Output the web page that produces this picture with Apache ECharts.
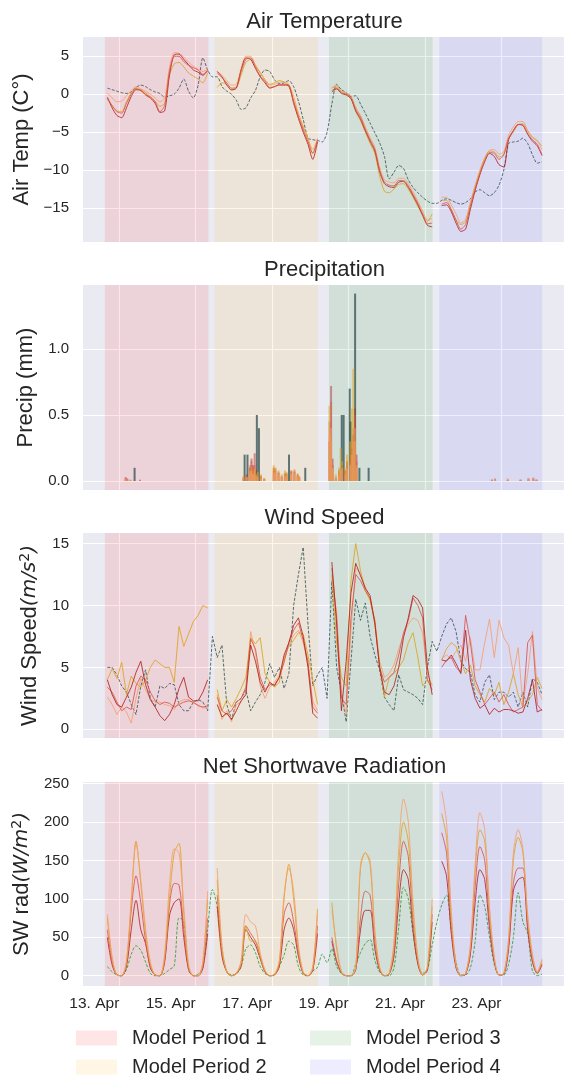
<!DOCTYPE html>
<html>
<head>
<meta charset="utf-8">
<script src="https://cdn.jsdelivr.net/npm/echarts@6.0.0/dist/echarts.min.js"></script>
<style>
  html, body { margin: 0; padding: 0; background: #ffffff; }
  #chart { width: 564px; height: 1079px; }
</style>
</head>
<body>
<div id="chart"></div>
<script>
// hours after 13 Apr 00:00, 3 hourly
var hours = [-7.5, -4.5, -1.5, 1.5, 4.5, 7.5, 10.5, 13.5, 16.5, 19.5, 22.5, 25.5, 28.5, 31.5, 34.5, 37.5, 40.5, 43.5, 46.5, 49.5, 52.5, 55.5,
  58.5,
  61.5, 64.5, 67.5, 70.5, 73.5, 76.5, 79.5, 82.5, 85.5, 88.5, 91.5, 94.5, 97.5, 100.5, 103.5, 106.5, 109.5, 112.5, 115.5, 118.5, 121.5, 124.5,
  127.5, 130.5,
  133.5, 136.5, 139.5, 142.5, 145.5, 148.5, 151.5, 154.5, 157.5, 160.5, 163.5, 166.5, 169.5, 172.5, 175.5, 178.5, 181.5, 184.5, 187.5, 190.5, 193.5, 196.5,
  199.5,
  202.5, 205.5, 208.5, 211.5, 214.5, 217.5, 220.5, 223.5, 226.5, 229.5, 232.5, 235.5, 238.5, 241.5, 244.5, 247.5, 250.5, 253.5, 256.5, 259.5, 262.5, 265.5];

var tickHours = [0, 48, 96, 144, 192, 240];
var tickLabels = ['13. Apr', '15. Apr', '17. Apr', '19. Apr', '21. Apr', '23. Apr'];

var periodNames = ['Model Period 1', 'Model Period 2', 'Model Period 3', 'Model Period 4'];
var periodStart = [-9.1, 59.8, 131.7, 201.0];
var periodEnd = [56.0, 124.8, 196.8, 265.6];

// ---- air temperature (C) ----
var tempObs = [0.8, 0.6, 0.4, 0.2, 0.1, 0.3, 0.9, 1.2, 1.0, 0.6, 0.3, 0.1, -0.4, -0.2, 0.0, 0.8, 2.0, 0.4, -0.5, 1.2, 4.8, 3.2,
  2.3,
  2.3, 1.0, 0.4, 0.0, -0.8, -2.0, -1.8, -0.5, 0.5, 2.3, 3.2, 3.0, 1.9, 1.4, 1.5, 1.8, 1.0, -0.9, -3.3, -5.8, -6.0, -6.1,
  -6.3, -5.0,
  -1.3, 1.3, 0.6, 0.2, -0.3, -0.2, -1.3, -2.5, -3.8, -5.1, -6.4, -8.2, -11.2, -10.3, -9.4, -9.8, -11.3, -12.3, -13.0, -13.6, -14.1, -14.4,
  -14.4,
  -14.0, -13.8, -14.0, -14.3, -14.5, -14.3, -13.8, -12.9, -12.6, -13.0, -13.4, -13.0, -12.0, -10.0, -6.5, -6.3, -6.2, -5.8, -6.5, -8.0, -9.1, -8.9];
var tempA = [-0.4, -1.8, -2.8, -3.1, -1.8, -0.3, 0.6, 0.5, -0.1, -0.5, -1.2, -2.4, -2.2, 2.5, 5.2, 5.3, 4.6, 3.9, 3.2, 2.9, 2.5, 3.1,
  null,
  3.0, 2.3, 1.2, 0.6, 0.8, 3.2, 4.8, 4.6, 3.4, 2.3, 1.5, 0.8, 1.0, 1.2, 1.2, 1.1, -1.2, -3.2, -5.0, -6.6, -8.6, -6.3,
  null, null,
  0.3, 0.7, 0.1, -0.1, -0.6, -2.2, -3.3, -4.8, -6.2, -7.5, -10.2, -11.8, -12.2, -12.3, -11.6, -11.5, -12.3, -13.4, -14.6, -16.0, -17.3, -17.5,
  null,
  -14.7, -14.6, -15.5, -17.0, -18.1, -17.8, -15.2, -12.7, -10.6, -8.9, -7.8, -8.2, -9.3, -9.6, -6.0, -4.8, -4.0, -4.1, -5.3, -6.2, -6.8, -8.1];
var tempB = [-0.6, -1.5, -2.3, -2.5, -1.2, 0.0, 0.7, 0.5, 0.0, -0.4, -1.0, -2.3, -1.5, 3.0, 5.0, 5.0, 4.3, 3.8, 3.5, 3.2, 2.6, 3.2,
  null,
  2.8, 2.2, 1.5, 0.8, 0.9, 3.0, 4.6, 4.8, 3.6, 2.4, 1.7, 0.9, 1.0, 1.3, 1.3, 1.2, -1.0, -3.0, -4.7, -6.3, -7.8, -6.0,
  null, null,
  0.5, 0.8, 0.2, 0.0, -0.4, -2.0, -3.0, -4.6, -6.0, -7.3, -10.0, -11.6, -12.0, -12.1, -11.4, -11.4, -12.1, -13.2, -14.4, -15.8, -17.1, -17.0,
  null,
  -14.5, -14.3, -15.2, -16.6, -17.8, -17.2, -14.8, -12.5, -10.5, -8.8, -7.7, -7.8, -8.6, -8.0, -5.8, -4.8, -4.0, -4.1, -5.2, -6.0, -6.6, -8.0];
var tempC = [-0.5, -1.5, -2.2, -2.3, -1.0, 0.2, 0.8, 0.6, 0.2, -0.3, -0.9, -1.6, -1.2, 2.5, 4.0, 4.2, 3.6, 2.8, 2.4, 2.0, 1.5, 2.8,
  null,
  0.9, 1.5, 1.3, 0.5, 0.8, 2.5, 4.2, 4.6, 3.7, 2.9, 1.9, 1.3, 1.5, 1.8, 1.6, 1.0, -0.8, -2.8, -4.4, -6.0, -7.8, -6.2,
  null, null,
  0.8, 1.2, 0.3, 0.0, -0.5, -2.3, -3.5, -5.0, -6.5, -7.8, -10.8, -12.8, -13.0, -12.5, -11.9, -11.8, -12.5, -13.6, -14.8, -15.8, -16.8, -15.8,
  null,
  -14.0, -14.0, -15.3, -16.6, -17.2, -16.8, -14.6, -12.3, -10.2, -8.5, -7.5, -7.6, -8.3, -7.9, -5.9, -5.0, -4.0, -3.9, -4.9, -5.7, -6.2, -6.8];
var tempD = [0.2, -0.5, -1.0, -0.9, -0.2, 0.5, 1.0, 0.7, 0.4, 0.0, -0.5, -1.0, -0.5, 3.5, 5.5, 5.4, 4.9, 4.2, 3.7, 3.3, 3.0, 3.3,
  null,
  3.0, 2.5, 1.8, 1.2, 1.3, 3.4, 5.0, 5.0, 3.9, 2.8, 1.9, 1.2, 1.3, 1.6, 1.6, 1.3, -0.3, -2.5, -4.2, -5.8, -7.3, -5.8,
  null, null,
  0.9, 1.0, 0.4, 0.2, -0.2, -1.7, -2.8, -4.3, -5.7, -7.0, -9.6, -11.3, -11.6, -11.7, -11.1, -11.1, -11.8, -12.9, -14.1, -15.4, -16.6, -16.4,
  null,
  -13.6, -13.6, -14.6, -15.8, -17.0, -16.5, -14.2, -12.0, -10.0, -8.4, -7.4, -7.3, -7.9, -7.6, -5.4, -4.3, -3.6, -3.6, -4.8, -5.6, -6.1, -7.3];

// ---- precipitation (mm) ----
var precipObsHours = [9.6, 78.7, 80.5, 86.4, 87.7, 106.6, 116.8, 139.7, 140.9, 144.7, 145.3, 148.1, 150.8, 156.6];
var precipObs = [0.1, 0.2, 0.2, 0.5, 0.4, 0.2, 0.1, 0.5, 0.5, 0.7, 0.45, 1.42, 0.1, 0.1];
var precipHours = [4, 5, 7, 13, 78, 80, 82, 83, 84, 85, 86, 87, 89, 91, 97, 98, 100, 102, 104, 105, 108, 110, 112, 113,
  132, 133, 134, 136, 138, 139, 140, 142, 143, 145, 146, 147, 148, 149, 234, 236, 244, 252, 257, 260, 262];
var precipA = [0.03, 0.02, 0.0, 0.01, 0.02, 0.05, 0.10, 0.17, 0.12, 0.21, 0.08, 0.03, 0.04, 0.02,
  0.10, 0.08, 0.06, 0.03, 0.05, 0.06, 0.08, 0.07, 0.05, 0.03,
  0.30, 0.72, 0.17, 0.02, 0.08, 0.05, 0.12, 0.08, 0.15, 0.20, 0.25, 0.35, 0.55, 0.20,
  0.01, 0.01, 0.01, 0.01, 0.02, 0.02, 0.01];
var precipB = [0.02, 0.01, 0.01, 0.0, 0.03, 0.04, 0.12, 0.15, 0.10, 0.12, 0.06, 0.04, 0.03, 0.01,
  0.08, 0.10, 0.07, 0.04, 0.06, 0.05, 0.07, 0.08, 0.04, 0.02,
  0.45, 0.60, 0.12, 0.03, 0.06, 0.10, 0.08, 0.06, 0.12, 0.15, 0.30, 0.40, 0.50, 0.15,
  0.01, 0.02, 0.01, 0.01, 0.01, 0.02, 0.01];
var precipC = [0.01, 0.0, 0.01, 0.0, 0.04, 0.03, 0.08, 0.10, 0.06, 0.10, 0.05, 0.07, 0.05, 0.02,
  0.12, 0.10, 0.08, 0.05, 0.08, 0.07, 0.06, 0.09, 0.06, 0.04,
  0.57, 0.30, 0.10, 0.05, 0.10, 0.25, 0.15, 0.10, 0.20, 0.30, 0.55, 0.85, 0.30, 0.10,
  0.0, 0.01, 0.01, 0.0, 0.01, 0.01, 0.0];
var precipD = [0.02, 0.01, 0.0, 0.0, 0.02, 0.03, 0.06, 0.08, 0.05, 0.08, 0.04, 0.03, 0.02, 0.01,
  0.06, 0.07, 0.05, 0.03, 0.04, 0.04, 0.05, 0.06, 0.03, 0.02,
  0.35, 0.40, 0.10, 0.03, 0.05, 0.08, 0.10, 0.05, 0.10, 0.12, 0.20, 0.30, 0.40, 0.12,
  0.01, 0.01, 0.02, 0.01, 0.02, 0.03, 0.01];

// ---- wind speed ----
var windObs = [5.0, 5.0, 4.4, 3.5, 3.0, 2.0, 1.2, 3.5, 4.8, 2.5, 1.8, 3.5, 3.3, 3.7, 3.6, 2.0, 1.5, 1.5, 2.2, 2.4, 2.2, 1.5,
  7.5,
  5.8, 6.8, 2.0, 0.8, 2.2, 2.5, 3.2, 1.5, 2.2, 2.8, 3.8, 5.3, 4.2, 5.0, 3.3, 4.5, 10.0, 12.5, 14.7, 8.5, 3.5, 4.4,
  5.0, 2.5,
  12.0, 5.0, 3.0, 0.6, 5.5, 10.5, 8.8, 10.2, 7.5, 6.0, 4.8, 2.6, 2.0, 1.5, 4.4, 3.2, 3.0, 2.8, 2.5, 2.0, 5.0, 7.1,
  6.3,
  7.5, 8.5, 9.0, 7.9, 5.5, 4.9, 4.6, 2.8, 2.2, 3.8, 4.4, 2.4, 3.0, 3.0, 2.6, 3.0, 1.8, 3.0, 1.8, 4.1, 3.8, 2.8];
var windA = [4.0, 2.8, 2.0, 1.8, 2.6, 3.4, 4.6, 5.5, 3.6, 2.4, 1.8, 1.1, 0.7, 1.2, 2.0, 3.3, 4.2, 2.6, 2.3, 2.3, 3.0, 4.0,
  null,
  2.0, 1.0, 1.3, 0.8, 1.5, 2.3, 2.8, 6.8, 5.5, 3.8, 3.0, 3.8, 3.5, 4.2, 6.0, 7.0, 8.4, 9.0, 7.5, 5.0, 1.3, 0.9,
  null, null,
  13.5, 8.5, 1.5, 5.5, 11.0, 13.4, 12.4, 11.4, 10.8, 8.6, 5.0, 3.0, 2.8, 3.5, 5.0, 7.4, 9.0, 10.8, 10.5, 9.8, 5.0, 2.8,
  null,
  5.6, 5.5, 6.0, 5.3, 4.5, 8.0, 4.0, 2.5, 1.7, 2.0, 1.2, 1.7, 1.4, 1.6, 1.6, 1.5, 1.3, 1.4, 2.5, 4.0, 1.4, 1.6];
var windB = [3.4, 3.0, 2.2, 1.5, 1.8, 1.6, 3.5, 4.3, 4.0, 3.0, 2.3, 2.0, 2.2, 2.1, 1.8, 2.0, 2.2, 2.3, 2.2, 1.9, 1.8, 1.9,
  null,
  2.6, 1.5, 1.2, 1.5, 2.2, 2.5, 3.4, 7.3, 6.5, 4.2, 3.2, 3.6, 3.6, 4.2, 5.4, 7.0, 8.0, 8.6, 7.2, 5.5, 1.8, 1.3,
  null, null,
  13.0, 9.0, 2.5, 2.0, 9.0, 12.5, 12.0, 11.2, 10.6, 8.5, 5.0, 3.8, 4.2, 4.6, 6.0, 7.8, 8.8, 10.6, 10.0, 9.0, 4.0, 3.2,
  null,
  5.0, 5.6, 5.8, 5.0, 4.6, 9.2, 7.0, 4.0, 3.0, 2.0, 2.5, 3.0, 2.2, 2.8, 2.0, 1.4, 1.6, 1.8, 7.0, 7.6, 2.0, 1.5];
var windC = [4.0, 4.9, 4.1, 5.4, 2.8, 4.3, 3.7, 3.4, 4.0, 5.0, 5.6, 5.3, 5.0, 5.0, 3.8, 8.3, 6.7, 7.7, 8.7, 9.2, 10.0, 9.8,
  null,
  3.2, 1.5, 2.4, 1.8, 2.5, 3.3, 4.2, 7.4, 6.9, 7.4, 4.5, 3.8, 3.4, 3.8, 5.8, 6.7, 7.2, 7.8, 7.7, 6.0, 4.0, 2.0,
  null, null,
  12.5, 7.0, 4.2, 3.5, 12.0, 15.0, 12.8, 11.2, 10.4, 8.8, 5.2, 2.6, 4.2, 4.5, 5.0, 5.6, 7.0, 7.8, 5.8, 3.5, 4.0, 3.6,
  null,
  5.6, 6.5, 7.0, 6.7, 5.5, 4.5, 5.2, 3.5, 2.8, 2.2, 3.3, 2.8, 3.8, 2.0, 3.0, 4.5, 2.8, 1.8, 2.3, 2.8, 4.2, 3.3];
var windD = [2.6, 2.0, 1.2, 1.8, 1.4, 0.5, 2.5, 4.1, 3.2, 2.4, 2.2, 2.2, 2.0, 1.9, 1.6, 2.2, 2.4, 2.4, 2.1, 2.0, 1.7, 1.8,
  null,
  2.8, 0.8, 1.5, 0.6, 2.0, 2.2, 3.0, 7.9, 6.2, 3.5, 2.5, 3.4, 3.8, 4.4, 5.6, 6.8, 7.6, 8.0, 7.0, 5.2, 2.3, 1.5,
  null, null,
  12.0, 9.5, 3.0, 1.2, 8.0, 13.0, 12.6, 11.5, 10.5, 8.8, 5.5, 4.2, 4.5, 5.2, 6.5, 7.6, 8.5, 9.0, 8.8, 7.8, 4.5, 3.5,
  null,
  5.7, 6.0, 5.7, 6.3, 6.8, 5.5, 7.4, 4.8, 4.8, 7.0, 8.9, 5.8, 8.8, 7.4, 6.8, 4.5, 6.6, 2.0, 4.5, 7.9, 3.4, 2.4];

// ---- net shortwave radiation ----
var swObs = [12, 5, 1, 0, 8, 28, 39, 33, 18, 3, 0, 0, 3, 8, 13, 75, 72, 8, 0, 2, 11, 60,
  112,
  90, 35, 6, 1, 2, 12, 35, 40, 30, 12, 3, 0, 2, 12, 27, 45, 40, 12, 1, 0, 6, 11,
  28, 17,
  35, 12, 3, 0, 0, 15, 30, 42, 47, 20, 5, 0, 0, 10, 63, 115, 100, 55, 18, 3, 8, 40,
  70,
  92, 105, 60, 18, 1, 1, 10, 45, 105, 90, 50, 15, 1, 1, 15, 50, 108, 70, 55, 6, 0, 2];
var swA = [50, 14, 1, 0, 12, 60, 98, 60, 42, 10, 1, 0, 18, 78, 95, 100, 50, 8, 0, 0, 10, 55,
  null,
  90, 25, 5, 0, 3, 12, 60, 50, 40, 22, 5, 0, 1, 12, 60, 75, 60, 25, 3, 0, 7, 55,
  null, null,
  45, 18, 4, 0, 0, 8, 60, 85, 85, 35, 7, 0, 2, 25, 95, 138, 125, 58, 15, 1, 7, 70,
  null,
  149, 130, 55, 10, 0, 2, 28, 95, 138, 125, 62, 18, 1, 2, 35, 110, 125, 128, 60, 18, 3, 14];
var swB = [60, 18, 1, 0, 15, 85, 130, 95, 45, 12, 1, 0, 20, 92, 120, 118, 60, 10, 0, 0, 12, 75,
  null,
  105, 30, 5, 0, 3, 15, 65, 55, 45, 25, 5, 0, 1, 15, 80, 95, 70, 30, 3, 0, 8, 65,
  null, null,
  50, 20, 4, 0, 0, 8, 75, 110, 105, 45, 8, 0, 2, 30, 120, 175, 155, 70, 18, 1, 8, 80,
  null,
  186, 160, 65, 12, 0, 2, 30, 115, 168, 150, 70, 20, 1, 2, 40, 120, 140, 140, 65, 20, 4, 16];
var swC = [75, 22, 1, 0, 18, 95, 175, 120, 55, 15, 1, 0, 25, 100, 160, 172, 80, 12, 0, 0, 18, 100,
  null,
  125, 35, 5, 0, 3, 15, 65, 45, 45, 25, 6, 0, 1, 18, 100, 145, 100, 35, 4, 0, 10, 87,
  null, null,
  95, 35, 5, 0, 0, 10, 140, 160, 145, 55, 10, 0, 3, 40, 145, 200, 175, 85, 22, 1, 10, 90,
  null,
  211, 180, 75, 14, 0, 3, 38, 135, 190, 175, 85, 23, 1, 3, 45, 150, 180, 160, 75, 25, 4, 20];
var swD = [80, 25, 1, 0, 20, 100, 172, 125, 62, 18, 1, 0, 30, 118, 165, 160, 90, 15, 0, 0, 18, 110,
  null,
  140, 40, 5, 0, 3, 20, 80, 70, 65, 30, 8, 0, 2, 20, 105, 140, 110, 40, 5, 0, 12, 80,
  null, null,
  85, 40, 6, 0, 0, 12, 145, 160, 150, 60, 12, 0, 3, 45, 165, 230, 200, 95, 25, 1, 12, 100,
  null,
  240, 200, 85, 15, 0, 3, 40, 145, 212, 190, 90, 25, 1, 3, 50, 160, 190, 165, 80, 28, 5, 22];

var FONT = 'Liberation Sans, Arial, sans-serif';
var TXT = '#262626';
var periodColors = ['rgba(255,0,0,0.1)', 'rgba(255,165,0,0.1)', 'rgba(0,128,0,0.1)', 'rgba(0,0,255,0.07)'];
var modelColors = ['#B22222', '#D9534F', '#DAA520', '#F4A070']; // A, B, C, D
var obsColor = '#2F4F4F';
var swObsColor = '#2A9A2A';

var gridTops = [37, 285, 533, 782];
var gridH = 205;
var titles = ['Air Temperature', 'Precipitation', 'Wind Speed', 'Net Shortwave Radiation'];
var yMin = [-19.5, -0.068, -0.7, -13.4];
var yMax = [7.55, 1.485, 15.85, 252];
var yTicks = [[-15, -10, -5, 0, 5], [0, 0.5, 1.0], [0, 5, 10, 15], [0, 50, 100, 150, 200, 250]];
var yNames = [
  '{n|Air Temp (C°)}',
  '{n|Precip (mm)}',
  '{n|Wind Speed}{i|(m/s}{s|2}{i|)}',
  '{n|SW rad}{i|(W/m}{s|2}{i|)}'
];
var smoothPanel = [0.25, 0, 0, 0.3];

function pairs(xs, vals) {
  return xs.map(function (h, i) { return [h, vals[i]]; });
}

var chart = echarts.init(document.getElementById('chart'));

var grids = [], xAxes = [], yAxes = [], series = [], titleList = [];
gridTops.forEach(function (top, g) {
  grids.push({ left: 83, top: top, width: 483, height: g === 3 ? 204 : gridH, show: true,
    backgroundColor: '#EAEAF2', borderWidth: 0 });
  titleList.push({ text: titles[g], left: 324.5, top: top - 26, textAlign: 'center', padding: 0,
    textStyle: { fontFamily: FONT, fontSize: 22, fontWeight: 'normal', color: TXT } });
  xAxes.push({
    type: 'value', gridIndex: g, min: -22.8, max: 279.3,
    axisLine: { show: false },
    axisTick: { show: false, customValues: tickHours },
    splitLine: { show: true, lineStyle: { color: '#ffffff', width: 1.2 } },
    axisLabel: g === 3 ? {
      show: true, customValues: tickHours, align: 'right', margin: 10,
      fontFamily: FONT, fontSize: 15.5, color: TXT,
      formatter: function (v) { return tickLabels[tickHours.indexOf(v)]; }
    } : { show: false }
  });
  yAxes.push({
    type: 'value', gridIndex: g, min: yMin[g], max: yMax[g],
    axisLine: { show: false },
    axisTick: { show: false, customValues: yTicks[g] },
    splitLine: { show: true, lineStyle: { color: '#ffffff', width: 1.2 } },
    axisLabel: {
      customValues: yTicks[g], margin: 14, fontFamily: FONT, fontSize: 15, color: TXT,
      formatter: function (v) {
        var s = g === 1 ? v.toFixed(1) : String(v);
        return s.replace('-', '\u2212');
      }
    },
    name: yNames[g], nameLocation: 'middle', nameGap: 41,
    nameTextStyle: {
      color: TXT,
      rich: {
        n: { fontFamily: FONT, fontSize: 22, color: TXT },
        i: { fontFamily: 'DejaVu Sans', fontStyle: 'italic', fontSize: 20, color: TXT },
        s: { fontFamily: 'DejaVu Sans', fontSize: 14, color: TXT, verticalAlign: 'top', padding: [0, 0, 10, 0] }
      }
    }
  });
  // shaded model periods
  periodNames.forEach(function (name, p) {
    series.push({
      type: 'line', name: name, xAxisIndex: g, yAxisIndex: g, data: [], z: 1, silent: true,
      itemStyle: { color: periodColors[p] }, lineStyle: { color: periodColors[p] },
      markArea: { silent: true, itemStyle: { color: periodColors[p] },
        data: [[{ xAxis: periodStart[p] }, { xAxis: periodEnd[p] }]] }
    });
  });
});

function addLine(g, vals, color, dashed, width) {
  series.push({
    type: 'line', xAxisIndex: g, yAxisIndex: g, data: pairs(hours, vals), symbol: 'none',
    connectNulls: false, z: 3, silent: true, smooth: smoothPanel[g],
    lineStyle: { color: color, width: width || 1, type: dashed ? [3, 1.6] : 'solid', opacity: dashed ? 0.9 : 0.85 }
  });
}
function addBars(g, xs, vals, color, opacity, w) {
  series.push({
    type: 'bar', xAxisIndex: g, yAxisIndex: g, data: pairs(xs, vals), barWidth: w, barGap: '-100%',
    z: 3, silent: true, itemStyle: { color: color, opacity: opacity }
  });
}

// temperature
addLine(0, tempObs, obsColor, true, 0.9);
addLine(0, tempD, modelColors[3]);
addLine(0, tempC, modelColors[2]);
addLine(0, tempA, modelColors[0]);
addLine(0, tempB, modelColors[1]);
// precipitation
addBars(1, precipObsHours, precipObs, obsColor, 0.75, 2);
addBars(1, precipHours, precipA, modelColors[0], 0.45, 2);
addBars(1, precipHours, precipB, modelColors[1], 0.45, 2);
addBars(1, precipHours, precipC, modelColors[2], 0.55, 2);
addBars(1, precipHours, precipD, modelColors[3], 0.5, 2);
// wind
addLine(2, windObs, obsColor, true, 0.9);
addLine(2, windD, modelColors[3]);
addLine(2, windC, modelColors[2]);
addLine(2, windB, modelColors[1]);
addLine(2, windA, modelColors[0]);
// shortwave
addLine(3, swObs, swObsColor, true, 0.9);
addLine(3, swA, modelColors[0]);
addLine(3, swB, modelColors[1]);
addLine(3, swC, modelColors[2]);
addLine(3, swD, modelColors[3]);

function legendBlock(left, names) {
  return {
    left: left, top: 1028, orient: 'vertical', itemGap: 9, itemWidth: 41, itemHeight: 15,
    padding: 0, icon: 'rect', selectedMode: false,
    textStyle: { fontFamily: FONT, fontSize: 20, color: TXT, padding: [0, 0, 0, 10] },
    data: names.map(function (n) {
      return { name: n, itemStyle: { color: periodColors[periodNames.indexOf(n)] } };
    })
  };
}

chart.setOption({
  animation: false,
  backgroundColor: '#ffffff',
  textStyle: { fontFamily: FONT },
  title: titleList,
  grid: grids,
  xAxis: xAxes,
  yAxis: yAxes,
  legend: [legendBlock(76, [periodNames[0], periodNames[1]]), legendBlock(310, [periodNames[2], periodNames[3]])],
  series: series
});
</script>
</body>
</html>
